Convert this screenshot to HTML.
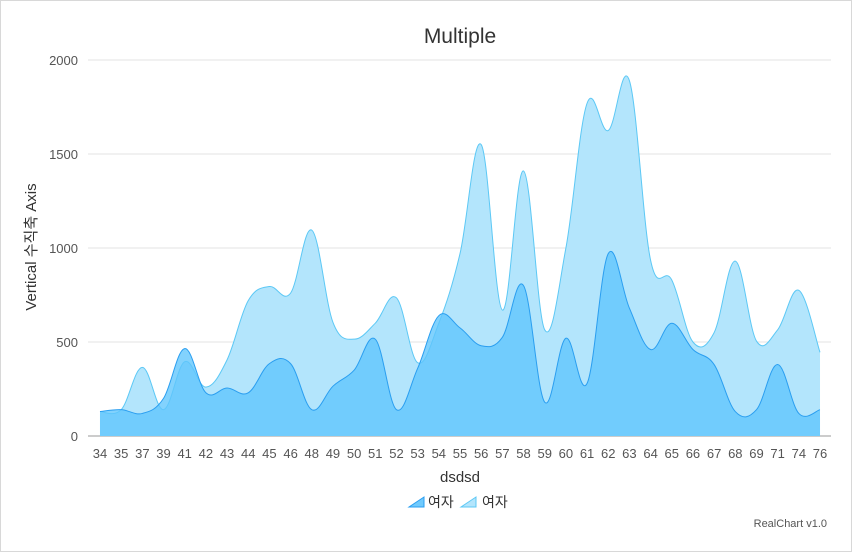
<!DOCTYPE html>
<html><head><meta charset="utf-8"><style>
body{margin:0;background:#fff;font-family:"Liberation Sans","Noto Sans CJK KR",sans-serif;}
svg text{font-family:"Liberation Sans","Noto Sans CJK KR",sans-serif;}
</style></head><body>
<svg id="chart" width="852" height="552" xmlns="http://www.w3.org/2000/svg">
<rect x="0.5" y="0.5" width="851" height="551" fill="#fff" stroke="#d8d8d8"/>
<text x="460" y="43" text-anchor="middle" font-size="21" fill="#333">Multiple</text>
<g id="grid"></g>
<g id="areas"></g>
<g id="axes"></g>
<text transform="translate(36,247) rotate(-90)" text-anchor="middle" font-size="15" fill="#333">Vertical 수직축 Axis</text>
<text x="460" y="482" text-anchor="middle" font-size="15" fill="#333">dsdsd</text>
<g>
<g>
<path d="M409 507 L424 507 L424 497 Z" fill="#70cafd" stroke="#2a9ef0"/>
<text x="428" y="507" font-size="14" fill="#333">여자</text>
</g>
<g>
<path d="M461 507 L476 507 L476 497 Z" fill="#b3e5fc" stroke="#5cc8f5"/>
<text x="482" y="507" font-size="14" fill="#333">여자</text>
</g>
</g>
<text x="827" y="527" text-anchor="end" font-size="11" fill="#555">RealChart v1.0</text>
</svg>
<script>
const categories=["34","35","37","39","41","42","43","44","45","46","48","49","50","51","52","53","54","55","56","57","58","59","60","61","62","63","64","65","66","67","68","69","71","74","76"];
const seriesA=[130,140,120,200,465,230,255,230,385,385,140,265,350,515,140,360,640,575,480,525,800,180,520,280,970,680,460,600,460,380,130,140,380,120,140];
const seriesB=[130,140,365,140,395,260,405,720,795,760,1095,605,515,600,735,390,600,970,1550,670,1410,565,1000,1770,1625,1890,935,830,500,550,930,505,565,775,445];
const yTicks=[0,500,1000,1500,2000];
(function(){
const NS="http://www.w3.org/2000/svg";
const pLeft=89.4,pRight=830.6,pTop=60,pBottom=436,yMax=2000;
const bw=(pRight-pLeft)/categories.length;
function xPos(i){return pLeft+bw*(i+0.5);}
function yPos(v){return pBottom-(v/yMax)*(pBottom-pTop);}
function mk(tag,attrs,parent){const e=document.createElementNS(NS,tag);for(const k in attrs)e.setAttribute(k,attrs[k]);parent.appendChild(e);return e;}
const grid=document.getElementById('grid'),axes=document.getElementById('axes'),areas=document.getElementById('areas');
yTicks.forEach(t=>{
  const l=mk('line',{x1:88,x2:831,y1:yPos(t),y2:yPos(t),stroke:t===0?'#bbb':'#e3e3e3','stroke-width':t===0?1.5:1},grid);
  
  
  const tx=mk('text',{x:78,y:yPos(t)+5,'text-anchor':'end','font-size':13,fill:'#555'},axes);
  tx.textContent=t;
  
  
});
categories.forEach((c,i)=>{
  const tx=mk('text',{x:xPos(i),y:458,'text-anchor':'middle','font-size':13,fill:'#555'},axes);
  tx.textContent=c;
  
  
});
function spline(vals){
  const p=vals.map((v,i)=>[xPos(i),yPos(v)]);
  let d='M'+p[0][0]+' '+p[0][1];
  for(let i=0;i<p.length-1;i++){
    const p0=p[i-1]||p[i],p1=p[i],p2=p[i+1],p3=p[i+2]||p2;
    const t=0.18;
    const c1=[p1[0]+(p2[0]-p0[0])*t,p1[1]+(p2[1]-p0[1])*t];
    const c2=[p2[0]-(p3[0]-p1[0])*t,p2[1]-(p3[1]-p1[1])*t];
    d+=` C${c1[0]} ${c1[1]} ${c2[0]} ${c2[1]} ${p2[0]} ${p2[1]}`;
  }
  return d;
}
function drawSeries(vals,fill,stroke,name){
  const line=spline(vals);
  const a=mk('path',{d:line+` L${xPos(vals.length-1)} ${pBottom} L${xPos(0)} ${pBottom} Z`,fill:fill,stroke:'none'},areas);
  
  
  const l=mk('path',{d:line,fill:'none',stroke:stroke,'stroke-width':1},areas);
  
  
}
drawSeries(seriesB,'#b3e5fc','#5cc8f5','series-2');
drawSeries(seriesA,'rgba(95,197,253,0.78)','#2a9ef0','series-1');
})();
</script>
</body></html>
